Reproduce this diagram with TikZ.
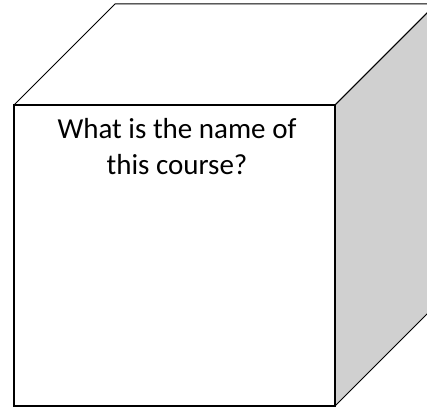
\documentclass[tikz,border=0pt]{standalone}
\usepackage{fontspec}
\setmainfont{Carlito}
\usepackage{xcolor}
\definecolor{sidegray}{RGB}{208,208,208}
\begin{document}
\begin{tikzpicture}[x=1pt,y=1pt]
        \useasboundingbox (0,0) rectangle (427,408);
        \clip (0,0) rectangle (427,408);
        % Right face
        \filldraw[fill=sidegray, draw=black, line width=1pt] (335,303) -- (436,404) -- (436,103) -- (335,2) -- cycle;
        % Top face
        \draw[line width=1pt] (14,303) -- (115,404) -- (436,404) -- (335,303);
        % Front face
        \draw[fill=white, line width=1.5pt] (14,2) rectangle (335,303);
        % Question
        \node[anchor=north, inner sep=0pt, align=center, font=\fontsize{29}{36}\selectfont] (question) at (177,289.5) {What is the name of\\this course?};
    \end{tikzpicture}
\end{document}
